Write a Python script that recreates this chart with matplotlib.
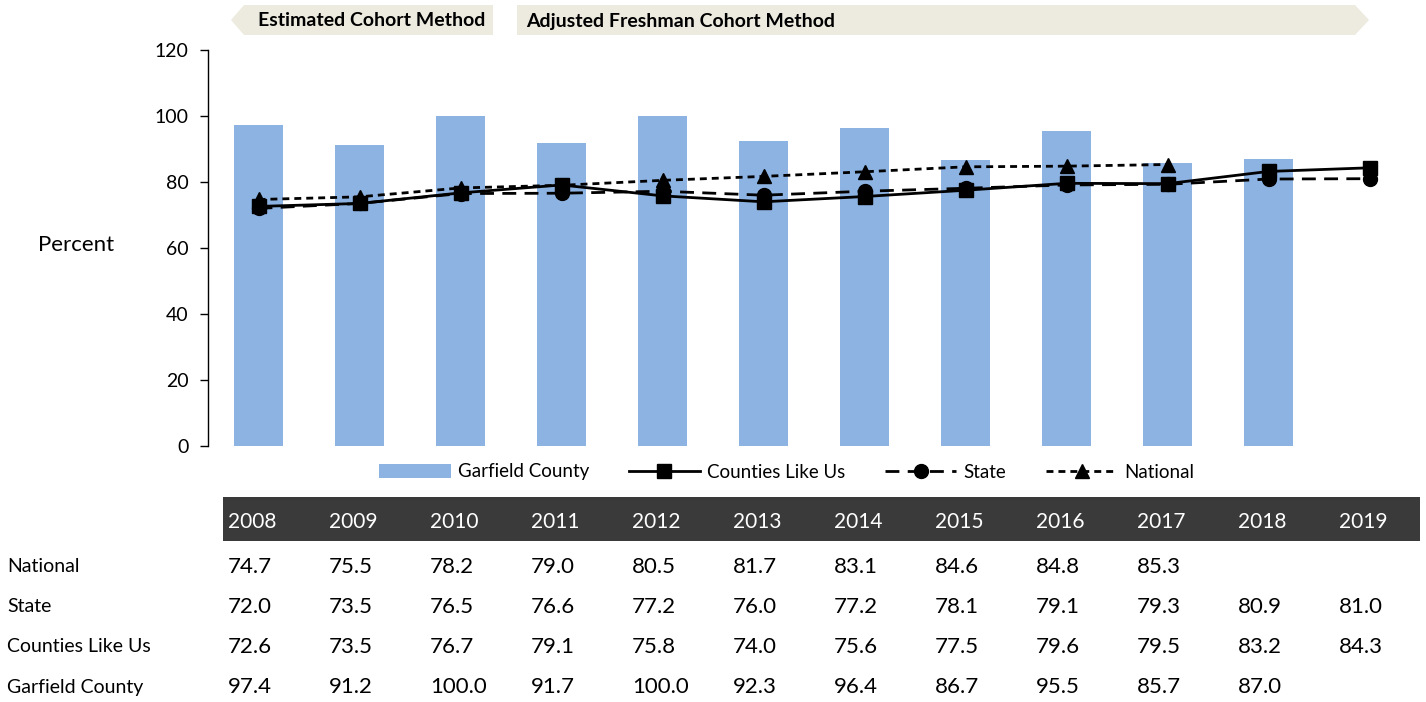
import matplotlib
matplotlib.use('Agg')
import matplotlib.pyplot as plt
from matplotlib.patches import Polygon, Rectangle
import numpy as np

plt.rcParams['font.family'] = ['Lato', 'DejaVu Sans']

years = ['2008', '2009', '2010', '2011', '2012', '2013', '2014', '2015', '2016', '2017', '2018', '2019']
national = [74.7, 75.5, 78.2, 79.0, 80.5, 81.7, 83.1, 84.6, 84.8, 85.3, None, None]
state = [72.0, 73.5, 76.5, 76.6, 77.2, 76.0, 77.2, 78.1, 79.1, 79.3, 80.9, 81.0]
counties = [72.6, 73.5, 76.7, 79.1, 75.8, 74.0, 75.6, 77.5, 79.6, 79.5, 83.2, 84.3]
garfield = [97.4, 91.2, 100.0, 91.7, 100.0, 92.3, 96.4, 86.7, 95.5, 85.7, 87.0, None]

W, H = 1426, 702
fig = plt.figure(figsize=(W / 100, H / 100), dpi=100)

x = np.arange(len(years))
L, R = 208 / W, 1420 / W
ax = fig.add_axes([L, 1 - 446 / H, R - L, (446 - 50) / H])

def arr(v):
    return np.array([np.nan if a is None else a for a in v], dtype=float)

bars = ax.bar(x, arr(garfield), width=0.49, color='#8DB3E2', label='Garfield County', zorder=1)
l1, = ax.plot(x, arr(counties), color='black', lw=2, marker='s', ms=10, label='Counties Like Us', zorder=4)
l2, = ax.plot(x, arr(state), color='black', lw=2, marker='o', ms=10, dashes=(5, 3), label='State', zorder=3)
l3, = ax.plot(x, arr(national), color='black', lw=2, marker='^', ms=10, dashes=(2.5, 1.8), label='National', zorder=2)

ax.set_xlim(-0.5, len(years) - 0.5)
ax.set_ylim(0, 120)
ax.set_yticks(range(0, 121, 20))
ax.tick_params(axis='y', labelsize=14, length=6, width=1, direction='out', pad=8)
ax.set_xticks([])
for s in ['top', 'right', 'bottom']:
    ax.spines[s].set_visible(False)
ax.spines['left'].set_linewidth(1)
fig.text(76 / W, 1 - 245 / H, 'Percent', fontsize=16, ha='center', va='center')

fig.legend([bars, l1, l2, l3], ['Garfield County', 'Counties Like Us', 'State', 'National'],
           loc='center', bbox_to_anchor=(787 / W, 1 - 472 / H), ncol=4, frameon=False,
           fontsize=13.5, handlelength=3.8, columnspacing=2.1, handletextpad=0.4)

# banner shapes on top
def px(pts):
    return [(a / W, 1 - b / H) for a, b in pts]

fig.patches.append(Polygon(px([(231, 20), (244, 5), (493, 5), (493, 35), (244, 35)]),
                           closed=True, transform=fig.transFigure, fc='#EDEBE0', ec='none'))
fig.patches.append(Polygon(px([(517, 5), (1355, 5), (1369, 20), (1355, 35), (517, 35)]),
                           closed=True, transform=fig.transFigure, fc='#EDEBE0', ec='none'))
fig.text(258 / W, 1 - 21 / H, 'Estimated Cohort Method', fontsize=14, fontweight='bold', va='center')
fig.text(526 / W, 1 - 21 / H, 'Adjusted Freshman Cohort Method', fontsize=14, fontweight='bold', va='center')

# data table below
tax = fig.add_axes([L, 0, R - L, (H - 497) / H])
tax.set_xlim(-0.5, len(years) - 0.5)
tax.set_ylim(H - 497, 0)
tax.axis('off')
tax.add_patch(Rectangle((-0.35, 0), 11.85, 44, fc='#3A3A3A', ec='none', clip_on=False))
for i, y in enumerate(years):
    tax.text(i - 0.3, 25, y, color='white', fontsize=15, va='center', ha='left')

rows = [('National', national), ('State', state), ('Counties Like Us', counties), ('Garfield County', garfield)]
for r, (name, vals) in enumerate(rows):
    yc = 70 + 40 * r
    fig.text(7 / W, 1 - (497 + yc) / H, name, fontsize=14, va='center', ha='left')
    for i, v in enumerate(vals):
        if v is not None:
            tax.text(i - 0.3, yc, f'{v:.1f}', fontsize=16, va='center', ha='left')

fig.savefig('out.png', dpi=100)
